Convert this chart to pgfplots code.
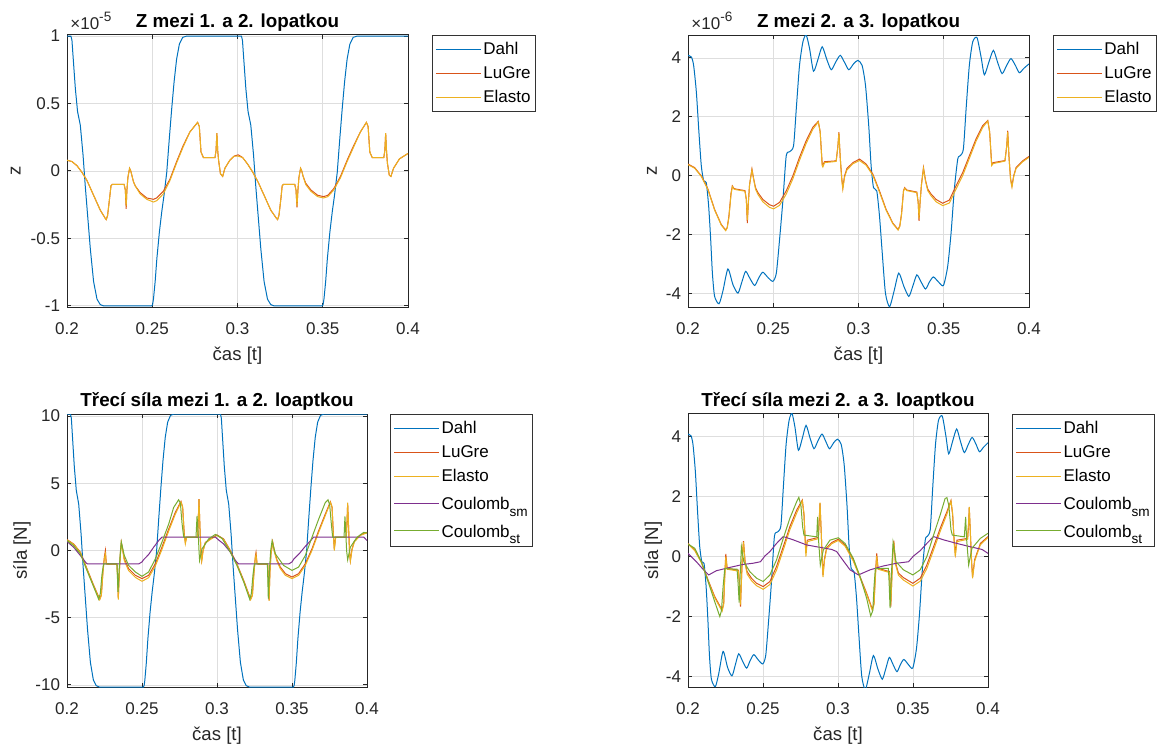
\documentclass[border=0pt]{standalone}
\usepackage{fontspec}
\setmainfont{Liberation Sans}
\usepackage{pgfplots}
\usepackage{pgfplotstable}
\pgfplotsset{compat=1.18}

\definecolor{cDahl}{RGB}{0,114,189}
\definecolor{cLuGre}{RGB}{217,83,25}
\definecolor{cElasto}{RGB}{237,177,32}
\definecolor{cSm}{RGB}{126,47,142}
\definecolor{cSt}{RGB}{119,172,48}
\definecolor{axgray}{RGB}{38,38,38}

\newcommand{\tickfont}{\fontsize{8.5}{10}\selectfont}
\newcommand{\labfont}{\fontsize{9.3}{11}\selectfont}
\newcommand{\sub}[1]{\rule{0pt}{7.8pt}\raisebox{-3.3pt}[0pt][4.3pt]{\fontsize{6.8}{8}\selectfont #1}}

% ---------- Z between blades 1 and 2 (x 1e-5) ----------
\pgfplotstableread[row sep=\\]{
t y\\
0.2000 1.00\\ 0.2023 1.00\\ 0.2029 0.97\\ 0.2035 0.86\\ 0.2049 0.61\\ 0.2062 0.44\\
0.2078 0.34\\ 0.2094 0.12\\ 0.2107 -0.11\\ 0.2121 -0.33\\ 0.2137 -0.58\\ 0.2156 -0.82\\
0.2176 -0.95\\ 0.2195 -0.99\\ 0.2215 -1.00\\ 0.2497 -1.00\\ 0.2502 -0.99\\ 0.2507 -0.95\\
0.2517 -0.82\\ 0.2527 -0.65\\ 0.2542 -0.45\\ 0.2556 -0.30\\ 0.2569 -0.18\\ 0.2585 -0.01\\
0.2600 0.24\\ 0.2614 0.46\\ 0.2628 0.66\\ 0.2643 0.83\\ 0.2659 0.94\\ 0.2678 0.99\\
0.2702 1.00\\ 0.3023 1.00\\ 0.3029 0.97\\ 0.3035 0.86\\ 0.3049 0.61\\ 0.3062 0.44\\
0.3078 0.34\\ 0.3094 0.12\\ 0.3107 -0.11\\ 0.3121 -0.33\\ 0.3137 -0.58\\ 0.3156 -0.82\\
0.3176 -0.95\\ 0.3195 -0.99\\ 0.3215 -1.00\\ 0.3497 -1.00\\ 0.3502 -0.99\\ 0.3507 -0.95\\
0.3517 -0.82\\ 0.3527 -0.65\\ 0.3542 -0.45\\ 0.3556 -0.30\\ 0.3569 -0.18\\ 0.3585 -0.01\\
0.3600 0.24\\ 0.3614 0.46\\ 0.3628 0.66\\ 0.3643 0.83\\ 0.3659 0.94\\ 0.3678 0.99\\
0.3702 1.00\\ 0.4000 1.00\\
}\tlDahl

\pgfplotstableread[row sep=\\]{
t y\\
0.2000 0.08\\ 0.2029 0.07\\ 0.2058 0.04\\ 0.2088 -0.01\\ 0.2117 -0.07\\ 0.2156 -0.18\\
0.2195 -0.29\\ 0.2224 -0.35\\ 0.2230 -0.36\\ 0.2238 -0.33\\ 0.2250 -0.20\\ 0.2258 -0.11\\
0.2265 -0.10\\ 0.2335 -0.10\\ 0.2342 -0.14\\ 0.2347 -0.28\\ 0.2351 -0.15\\ 0.2357 -0.05\\
0.2367 0.02\\ 0.2374 0.00\\ 0.2380 -0.03\\ 0.2390 -0.08\\ 0.2400 -0.11\\ 0.2429 -0.16\\
0.2468 -0.20\\ 0.2507 -0.21\\ 0.2526 -0.20\\ 0.2565 -0.15\\ 0.2604 -0.06\\ 0.2643 0.07\\
0.2682 0.19\\ 0.2721 0.29\\ 0.2766 0.36\\ 0.2776 0.33\\ 0.2786 0.14\\ 0.2800 0.10\\
0.2868 0.10\\ 0.2874 0.15\\ 0.2879 0.28\\ 0.2884 0.15\\ 0.2889 0.08\\ 0.2900 -0.02\\
0.2913 -0.04\\ 0.2926 0.02\\ 0.2955 0.08\\ 0.2980 0.11\\ 0.3004 0.12\\ 0.3030 0.10\\
0.3060 0.05\\ 0.3090 -0.01\\ 0.3120 -0.08\\ 0.3156 -0.18\\ 0.3195 -0.29\\ 0.3228 -0.35\\
0.3235 -0.36\\ 0.3243 -0.33\\ 0.3255 -0.20\\ 0.3262 -0.11\\ 0.3269 -0.10\\ 0.3336 -0.10\\
0.3343 -0.14\\ 0.3349 -0.27\\ 0.3354 -0.15\\ 0.3360 -0.05\\ 0.3370 0.02\\ 0.3377 0.00\\
0.3385 -0.04\\ 0.3400 -0.09\\ 0.3430 -0.14\\ 0.3470 -0.18\\ 0.3505 -0.19\\ 0.3530 -0.18\\
0.3565 -0.13\\ 0.3604 -0.04\\ 0.3643 0.08\\ 0.3682 0.19\\ 0.3721 0.29\\ 0.3756 0.36\\
0.3766 0.33\\ 0.3776 0.14\\ 0.3790 0.10\\ 0.3858 0.10\\ 0.3864 0.15\\ 0.3869 0.28\\
0.3874 0.15\\ 0.3879 0.06\\ 0.3890 -0.03\\ 0.3900 -0.04\\ 0.3915 0.02\\ 0.3950 0.09\\
0.4000 0.13\\
}\tlLuGre

\pgfplotstableread[row sep=\\]{
t y\\
0.2000 0.08\\ 0.2029 0.07\\ 0.2058 0.04\\ 0.2088 -0.01\\ 0.2117 -0.07\\ 0.2156 -0.18\\
0.2195 -0.29\\ 0.2224 -0.35\\ 0.2230 -0.36\\ 0.2238 -0.33\\ 0.2250 -0.20\\ 0.2258 -0.11\\
0.2265 -0.10\\ 0.2335 -0.10\\ 0.2342 -0.14\\ 0.2347 -0.26\\ 0.2351 -0.15\\ 0.2357 -0.05\\
0.2367 0.02\\ 0.2374 0.00\\ 0.2380 -0.03\\ 0.2390 -0.08\\ 0.2400 -0.11\\ 0.2429 -0.17\\
0.2468 -0.21\\ 0.2507 -0.23\\ 0.2526 -0.22\\ 0.2565 -0.17\\ 0.2604 -0.07\\ 0.2643 0.06\\
0.2682 0.18\\ 0.2721 0.29\\ 0.2766 0.36\\ 0.2776 0.33\\ 0.2786 0.14\\ 0.2800 0.10\\
0.2868 0.10\\ 0.2874 0.15\\ 0.2879 0.28\\ 0.2884 0.15\\ 0.2889 0.08\\ 0.2900 -0.02\\
0.2913 -0.04\\ 0.2926 0.02\\ 0.2955 0.08\\ 0.2980 0.11\\ 0.3004 0.11\\ 0.3030 0.10\\
0.3060 0.05\\ 0.3090 -0.01\\ 0.3120 -0.08\\ 0.3156 -0.18\\ 0.3195 -0.29\\ 0.3228 -0.35\\
0.3235 -0.36\\ 0.3243 -0.33\\ 0.3255 -0.20\\ 0.3262 -0.11\\ 0.3269 -0.10\\ 0.3336 -0.10\\
0.3343 -0.14\\ 0.3349 -0.26\\ 0.3354 -0.15\\ 0.3360 -0.05\\ 0.3370 0.02\\ 0.3377 0.00\\
0.3385 -0.04\\ 0.3400 -0.10\\ 0.3430 -0.15\\ 0.3470 -0.19\\ 0.3505 -0.20\\ 0.3530 -0.19\\
0.3565 -0.14\\ 0.3604 -0.05\\ 0.3643 0.07\\ 0.3682 0.18\\ 0.3721 0.29\\ 0.3756 0.36\\
0.3766 0.33\\ 0.3776 0.14\\ 0.3790 0.10\\ 0.3858 0.10\\ 0.3864 0.15\\ 0.3869 0.28\\
0.3874 0.15\\ 0.3879 0.06\\ 0.3890 -0.03\\ 0.3900 -0.04\\ 0.3915 0.02\\ 0.3950 0.09\\
0.4000 0.13\\
}\tlElasto

% ---------- Z between blades 2 and 3 (x 1e-6); Dahl force 2-3 has the same values ----------
\pgfplotstableread[row sep=\\]{
t y\\
0.2000 4.09\\ 0.2020 4.03\\ 0.2033 3.75\\ 0.2049 2.84\\ 0.2064 1.48\\ 0.2078 0.34\\
0.2092 -0.17\\ 0.2107 -0.23\\ 0.2121 -1.02\\ 0.2133 -2.16\\ 0.2143 -3.30\\ 0.2156 -4.09\\
0.2182 -4.34\\ 0.2205 -3.90\\ 0.2234 -3.16\\ 0.2264 -3.70\\ 0.2293 -3.98\\ 0.2316 -3.60\\
0.2338 -3.24\\ 0.2365 -3.50\\ 0.2391 -3.72\\ 0.2416 -3.45\\ 0.2439 -3.27\\ 0.2469 -3.45\\
0.2498 -3.58\\ 0.2518 -3.30\\ 0.2537 -2.16\\ 0.2557 -0.80\\ 0.2576 0.68\\ 0.2596 0.82\\
0.2619 1.02\\ 0.2635 2.27\\ 0.2654 3.75\\ 0.2674 4.55\\ 0.2693 4.78\\ 0.2713 4.32\\
0.2736 3.55\\ 0.2762 3.95\\ 0.2787 4.38\\ 0.2814 3.95\\ 0.2840 3.60\\ 0.2865 3.85\\
0.2893 4.09\\ 0.2918 3.85\\ 0.2943 3.60\\ 0.2971 3.80\\ 0.2996 3.92\\ 0.3021 3.75\\
0.3041 3.07\\ 0.3060 1.70\\ 0.3074 0.34\\ 0.3088 -0.40\\ 0.3107 -0.51\\ 0.3123 -1.36\\
0.3139 -2.60\\ 0.3158 -3.98\\ 0.3182 -4.44\\ 0.3209 -3.90\\ 0.3236 -3.30\\ 0.3266 -3.75\\
0.3295 -4.09\\ 0.3318 -3.75\\ 0.3342 -3.36\\ 0.3367 -3.60\\ 0.3393 -3.84\\ 0.3416 -3.60\\
0.3439 -3.43\\ 0.3469 -3.60\\ 0.3498 -3.72\\ 0.3523 -3.07\\ 0.3543 -1.93\\ 0.3562 -0.45\\
0.3582 0.57\\ 0.3596 0.68\\ 0.3615 0.91\\ 0.3631 2.27\\ 0.3650 3.75\\ 0.3670 4.55\\
0.3695 4.69\\ 0.3719 4.03\\ 0.3738 3.43\\ 0.3764 3.85\\ 0.3791 4.26\\ 0.3816 3.85\\
0.3842 3.47\\ 0.3869 3.75\\ 0.3894 3.98\\ 0.3920 3.75\\ 0.3943 3.50\\ 0.3970 3.65\\
0.4000 3.80\\
}\trDahl

\pgfplotstableread[row sep=\\]{
t y\\
0.2000 0.40\\ 0.2039 0.28\\ 0.2078 0.00\\ 0.2117 -0.45\\ 0.2156 -1.14\\ 0.2195 -1.65\\
0.2221 -1.84\\ 0.2230 -1.75\\ 0.2240 -1.36\\ 0.2252 -0.60\\ 0.2260 -0.34\\ 0.2270 -0.43\\
0.2283 -0.45\\ 0.2334 -0.50\\ 0.2342 -0.80\\ 0.2348 -1.60\\ 0.2354 -0.90\\ 0.2361 -0.30\\
0.2375 0.23\\ 0.2385 -0.10\\ 0.2396 -0.40\\ 0.2410 -0.57\\ 0.2439 -0.80\\ 0.2478 -0.98\\
0.2502 -1.03\\ 0.2537 -0.90\\ 0.2576 -0.51\\ 0.2615 0.00\\ 0.2654 0.63\\ 0.2693 1.19\\
0.2732 1.65\\ 0.2764 1.85\\ 0.2775 1.50\\ 0.2787 0.40\\ 0.2791 0.38\\ 0.2801 0.48\\
0.2869 0.51\\ 0.2879 1.00\\ 0.2885 1.48\\ 0.2893 0.60\\ 0.2902 -0.10\\ 0.2908 -0.40\\
0.2918 0.00\\ 0.2932 0.25\\ 0.2967 0.45\\ 0.3006 0.57\\ 0.3045 0.40\\ 0.3084 0.06\\
0.3123 -0.51\\ 0.3162 -1.14\\ 0.3201 -1.60\\ 0.3232 -1.82\\ 0.3242 -1.70\\ 0.3252 -1.30\\
0.3264 -0.50\\ 0.3271 -0.40\\ 0.3283 -0.48\\ 0.3342 -0.55\\ 0.3350 -0.90\\ 0.3355 -1.53\\
0.3361 -0.90\\ 0.3369 -0.30\\ 0.3381 0.28\\ 0.3393 -0.15\\ 0.3406 -0.45\\ 0.3426 -0.62\\
0.3455 -0.80\\ 0.3494 -0.93\\ 0.3533 -0.82\\ 0.3572 -0.34\\ 0.3611 0.11\\ 0.3650 0.68\\
0.3689 1.25\\ 0.3728 1.70\\ 0.3758 1.88\\ 0.3769 1.50\\ 0.3781 0.40\\ 0.3791 0.45\\
0.3859 0.52\\ 0.3869 1.00\\ 0.3875 1.53\\ 0.3883 0.60\\ 0.3892 -0.10\\ 0.3900 -0.34\\
0.3910 0.00\\ 0.3924 0.28\\ 0.3963 0.51\\ 0.4000 0.66\\
}\trLuGre

\pgfplotstableread[row sep=\\]{
t y\\
0.2000 0.38\\ 0.2039 0.26\\ 0.2078 -0.02\\ 0.2117 -0.47\\ 0.2156 -1.16\\ 0.2195 -1.67\\
0.2221 -1.86\\ 0.2230 -1.77\\ 0.2240 -1.40\\ 0.2252 -0.65\\ 0.2260 -0.36\\ 0.2270 -0.45\\
0.2283 -0.47\\ 0.2334 -0.52\\ 0.2342 -0.80\\ 0.2348 -1.50\\ 0.2354 -0.90\\ 0.2361 -0.30\\
0.2375 0.20\\ 0.2385 -0.12\\ 0.2396 -0.45\\ 0.2410 -0.63\\ 0.2439 -0.88\\ 0.2478 -1.07\\
0.2502 -1.12\\ 0.2537 -1.00\\ 0.2576 -0.62\\ 0.2615 -0.10\\ 0.2654 0.53\\ 0.2693 1.10\\
0.2732 1.58\\ 0.2764 1.83\\ 0.2775 1.50\\ 0.2787 0.35\\ 0.2791 0.30\\ 0.2801 0.45\\
0.2869 0.49\\ 0.2879 1.00\\ 0.2885 1.45\\ 0.2893 0.60\\ 0.2902 -0.15\\ 0.2908 -0.45\\
0.2918 -0.05\\ 0.2932 0.20\\ 0.2967 0.41\\ 0.3006 0.52\\ 0.3045 0.36\\ 0.3084 0.02\\
0.3123 -0.55\\ 0.3162 -1.17\\ 0.3201 -1.62\\ 0.3232 -1.84\\ 0.3242 -1.72\\ 0.3252 -1.33\\
0.3264 -0.52\\ 0.3271 -0.42\\ 0.3283 -0.50\\ 0.3342 -0.57\\ 0.3350 -0.90\\ 0.3355 -1.45\\
0.3361 -0.90\\ 0.3369 -0.32\\ 0.3381 0.25\\ 0.3393 -0.18\\ 0.3406 -0.50\\ 0.3426 -0.68\\
0.3455 -0.88\\ 0.3494 -1.01\\ 0.3533 -0.92\\ 0.3572 -0.45\\ 0.3611 0.01\\ 0.3650 0.59\\
0.3689 1.17\\ 0.3728 1.64\\ 0.3758 1.86\\ 0.3769 1.50\\ 0.3781 0.35\\ 0.3791 0.42\\
0.3859 0.50\\ 0.3869 1.00\\ 0.3875 1.48\\ 0.3883 0.60\\ 0.3892 -0.15\\ 0.3900 -0.38\\
0.3910 -0.03\\ 0.3924 0.25\\ 0.3963 0.48\\ 0.4000 0.63\\
}\trElasto

% ---------- friction force between blades 1 and 2 ----------
\pgfplotstableread[row sep=\\]{
t y\\
0.2000 10.15\\ 0.2023 10.15\\ 0.2029 9.85\\ 0.2035 8.73\\ 0.2049 6.19\\ 0.2062 4.47\\
0.2078 3.45\\ 0.2094 1.22\\ 0.2107 -1.12\\ 0.2121 -3.35\\ 0.2137 -5.89\\ 0.2156 -8.32\\
0.2176 -9.64\\ 0.2195 -10.05\\ 0.2215 -10.15\\ 0.2509 -10.15\\ 0.2514 -10.05\\ 0.2519 -9.64\\
0.2529 -8.32\\ 0.2539 -6.60\\ 0.2554 -4.57\\ 0.2568 -3.05\\ 0.2581 -1.83\\ 0.2597 -0.10\\
0.2612 2.44\\ 0.2626 4.67\\ 0.2640 6.70\\ 0.2655 8.42\\ 0.2671 9.54\\ 0.2690 10.05\\
0.2714 10.15\\ 0.3023 10.15\\ 0.3029 9.85\\ 0.3035 8.73\\ 0.3049 6.19\\ 0.3062 4.47\\
0.3078 3.45\\ 0.3094 1.22\\ 0.3107 -1.12\\ 0.3121 -3.35\\ 0.3137 -5.89\\ 0.3156 -8.32\\
0.3176 -9.64\\ 0.3195 -10.05\\ 0.3215 -10.15\\ 0.3509 -10.15\\ 0.3514 -10.05\\ 0.3519 -9.64\\
0.3529 -8.32\\ 0.3539 -6.60\\ 0.3554 -4.57\\ 0.3568 -3.05\\ 0.3581 -1.83\\ 0.3597 -0.10\\
0.3612 2.44\\ 0.3626 4.67\\ 0.3640 6.70\\ 0.3655 8.42\\ 0.3671 9.54\\ 0.3690 10.05\\
0.3714 10.15\\ 0.4000 10.15\\
}\blDahl

\pgfplotstableread[row sep=\\]{
t y\\
0.2000 0.81\\ 0.2044 0.49\\ 0.2089 -0.12\\ 0.2133 -1.35\\ 0.2178 -2.59\\ 0.2218 -3.62\\
0.2229 -3.30\\ 0.2240 -1.50\\ 0.2249 -0.50\\ 0.2256 0.00\\ 0.2262 -0.98\\ 0.2333 -1.00\\
0.2338 -2.00\\ 0.2342 -3.57\\ 0.2349 -1.50\\ 0.2356 -0.20\\ 0.2362 0.62\\ 0.2371 0.10\\
0.2382 -0.62\\ 0.2411 -1.35\\ 0.2456 -1.85\\ 0.2500 -2.09\\ 0.2544 -1.85\\ 0.2589 -0.98\\
0.2633 0.25\\ 0.2678 1.60\\ 0.2722 2.83\\ 0.2760 3.65\\ 0.2771 3.20\\ 0.2782 1.20\\
0.2789 0.62\\ 0.2798 1.00\\ 0.2871 1.00\\ 0.2876 2.50\\ 0.2880 3.82\\ 0.2887 1.50\\
0.2893 -0.20\\ 0.2898 -0.74\\ 0.2907 0.00\\ 0.2922 0.60\\ 0.2956 0.86\\ 0.3000 1.16\\
0.3044 0.86\\ 0.3089 0.00\\ 0.3133 -1.00\\ 0.3178 -2.22\\ 0.3224 -3.62\\ 0.3236 -3.30\\
0.3247 -1.50\\ 0.3256 -0.40\\ 0.3260 -0.15\\ 0.3267 -0.98\\ 0.3338 -1.00\\ 0.3342 -2.00\\
0.3347 -3.70\\ 0.3353 -1.50\\ 0.3360 -0.20\\ 0.3371 0.66\\ 0.3382 0.00\\ 0.3400 -0.70\\
0.3422 -1.23\\ 0.3456 -1.72\\ 0.3500 -1.97\\ 0.3544 -1.72\\ 0.3589 -0.98\\ 0.3633 0.12\\
0.3678 1.48\\ 0.3722 2.71\\ 0.3756 3.62\\ 0.3767 3.20\\ 0.3776 1.20\\ 0.3782 0.12\\
0.3791 1.00\\ 0.3862 1.00\\ 0.3867 2.20\\ 0.3871 3.50\\ 0.3878 1.50\\ 0.3884 -0.20\\
0.3889 -0.74\\ 0.3900 0.10\\ 0.3916 0.70\\ 0.3956 1.16\\ 0.4000 1.35\\
}\blLuGre

\pgfplotstableread[row sep=\\]{
t y\\
0.2000 0.78\\ 0.2044 0.46\\ 0.2089 -0.16\\ 0.2133 -1.40\\ 0.2178 -2.65\\ 0.2218 -3.66\\
0.2229 -3.35\\ 0.2240 -1.60\\ 0.2249 -0.60\\ 0.2256 -0.25\\ 0.2262 -1.02\\ 0.2333 -1.04\\
0.2338 -2.10\\ 0.2342 -3.65\\ 0.2349 -1.60\\ 0.2356 -0.30\\ 0.2362 0.55\\ 0.2371 0.00\\
0.2382 -0.75\\ 0.2411 -1.50\\ 0.2456 -2.00\\ 0.2500 -2.29\\ 0.2544 -2.02\\ 0.2589 -1.15\\
0.2633 0.08\\ 0.2678 1.45\\ 0.2722 2.70\\ 0.2760 3.60\\ 0.2771 3.25\\ 0.2782 1.10\\
0.2789 0.50\\ 0.2798 0.98\\ 0.2871 0.98\\ 0.2876 2.60\\ 0.2880 3.80\\ 0.2887 1.50\\
0.2893 -0.30\\ 0.2898 -0.80\\ 0.2907 -0.05\\ 0.2922 0.55\\ 0.2956 0.82\\ 0.3000 1.12\\
0.3044 0.82\\ 0.3089 -0.05\\ 0.3133 -1.05\\ 0.3178 -2.28\\ 0.3224 -3.66\\ 0.3236 -3.35\\
0.3247 -1.60\\ 0.3256 -0.50\\ 0.3260 -0.30\\ 0.3267 -1.02\\ 0.3338 -1.04\\ 0.3342 -2.10\\
0.3347 -3.75\\ 0.3353 -1.60\\ 0.3360 -0.30\\ 0.3371 0.60\\ 0.3382 -0.10\\ 0.3400 -0.80\\
0.3422 -1.35\\ 0.3456 -1.85\\ 0.3500 -2.09\\ 0.3544 -1.85\\ 0.3589 -1.10\\ 0.3633 0.00\\
0.3678 1.36\\ 0.3722 2.60\\ 0.3756 3.58\\ 0.3767 3.25\\ 0.3776 1.10\\ 0.3782 0.00\\
0.3791 0.98\\ 0.3862 0.98\\ 0.3867 2.30\\ 0.3871 3.55\\ 0.3878 1.50\\ 0.3884 -0.30\\
0.3889 -0.80\\ 0.3900 0.05\\ 0.3916 0.65\\ 0.3956 1.12\\ 0.4000 1.32\\
}\blElasto

\pgfplotstableread[row sep=\\]{
t y\\
0.2000 0.67\\ 0.2044 0.25\\ 0.2089 -0.37\\ 0.2129 -0.94\\ 0.2138 -1.00\\ 0.2478 -1.00\\
0.2500 -0.85\\ 0.2511 -0.68\\ 0.2544 -0.30\\ 0.2578 0.25\\ 0.2611 0.74\\ 0.2633 1.00\\
0.2989 1.00\\ 0.3011 0.78\\ 0.3044 0.49\\ 0.3089 -0.12\\ 0.3122 -0.74\\ 0.3144 -1.00\\
0.3478 -1.00\\ 0.3500 -0.85\\ 0.3511 -0.65\\ 0.3551 -0.20\\ 0.3584 0.25\\ 0.3629 0.80\\
0.3644 1.00\\ 0.3978 1.00\\ 0.4000 0.74\\
}\blSm

\pgfplotstableread[row sep=\\]{
t y\\
0.2000 0.74\\ 0.2044 0.37\\ 0.2089 -0.25\\ 0.2133 -1.48\\ 0.2178 -2.71\\ 0.2211 -3.62\\
0.2222 -3.20\\ 0.2233 -1.80\\ 0.2244 -1.00\\ 0.2333 -1.00\\ 0.2340 -3.08\\ 0.2349 -1.20\\
0.2356 -0.10\\ 0.2362 0.62\\ 0.2382 -0.37\\ 0.2411 -1.11\\ 0.2456 -1.60\\ 0.2500 -1.92\\
0.2544 -1.60\\ 0.2589 -0.62\\ 0.2633 0.62\\ 0.2678 1.97\\ 0.2711 3.20\\ 0.2744 3.77\\
0.2756 3.50\\ 0.2767 2.00\\ 0.2778 1.00\\ 0.2860 1.00\\ 0.2867 2.58\\ 0.2876 1.00\\
0.2880 0.00\\ 0.2884 -0.74\\ 0.2900 0.12\\ 0.2944 0.86\\ 0.2989 1.20\\ 0.3033 0.91\\
0.3089 -0.12\\ 0.3133 -1.11\\ 0.3178 -2.34\\ 0.3218 -3.62\\ 0.3229 -3.20\\ 0.3240 -1.80\\
0.3249 -1.00\\ 0.3336 -1.00\\ 0.3342 -3.57\\ 0.3351 -1.20\\ 0.3358 0.00\\ 0.3367 0.71\\
0.3389 -0.25\\ 0.3444 -1.11\\ 0.3500 -1.48\\ 0.3544 -1.23\\ 0.3589 -0.37\\ 0.3633 0.98\\
0.3678 2.34\\ 0.3722 3.57\\ 0.3740 3.77\\ 0.3751 3.40\\ 0.3762 2.00\\ 0.3771 1.00\\
0.3847 1.00\\ 0.3853 2.53\\ 0.3860 1.00\\ 0.3864 0.00\\ 0.3871 -0.69\\ 0.3889 0.25\\
0.3933 0.98\\ 0.3978 1.35\\ 0.4000 1.30\\
}\blSt

% ---------- friction force between blades 2 and 3 ----------
\pgfplotstableread[row sep=\\]{
t y\\
0.2000 0.44\\ 0.2045 0.22\\ 0.2089 -0.17\\ 0.2134 -0.78\\ 0.2178 -1.33\\ 0.2227 -1.78\\
0.2238 -1.55\\ 0.2245 -0.60\\ 0.2252 0.09\\ 0.2261 -0.39\\ 0.2336 -0.45\\ 0.2343 -0.90\\
0.2350 -1.67\\ 0.2356 -0.80\\ 0.2363 0.10\\ 0.2370 0.52\\ 0.2381 -0.20\\ 0.2394 -0.50\\
0.2423 -0.72\\ 0.2457 -0.89\\ 0.2501 -1.00\\ 0.2546 -0.83\\ 0.2590 -0.33\\ 0.2635 0.33\\
0.2679 1.00\\ 0.2724 1.55\\ 0.2762 1.89\\ 0.2773 1.40\\ 0.2782 0.50\\ 0.2786 0.15\\
0.2795 0.55\\ 0.2869 0.64\\ 0.2875 1.20\\ 0.2880 1.78\\ 0.2889 0.70\\ 0.2895 -0.10\\
0.2900 -0.61\\ 0.2909 -0.10\\ 0.2924 0.30\\ 0.2958 0.47\\ 0.3002 0.58\\ 0.3047 0.39\\
0.3102 -0.11\\ 0.3147 -0.67\\ 0.3191 -1.22\\ 0.3229 -1.76\\ 0.3240 -1.55\\ 0.3249 -0.60\\
0.3258 0.11\\ 0.3267 -0.39\\ 0.3343 -0.50\\ 0.3347 -0.90\\ 0.3352 -1.67\\ 0.3358 -0.80\\
0.3365 0.10\\ 0.3372 0.53\\ 0.3383 -0.20\\ 0.3403 -0.55\\ 0.3436 -0.70\\ 0.3499 -0.89\\
0.3548 -0.72\\ 0.3592 -0.28\\ 0.3637 0.33\\ 0.3681 0.94\\ 0.3726 1.50\\ 0.3753 1.87\\
0.3764 1.40\\ 0.3775 0.50\\ 0.3782 0.11\\ 0.3793 0.55\\ 0.3864 0.61\\ 0.3871 1.10\\
0.3875 1.64\\ 0.3884 0.60\\ 0.3891 -0.20\\ 0.3897 -0.67\\ 0.3911 -0.10\\ 0.3949 0.44\\
0.4000 0.67\\
}\brLuGre

\pgfplotstableread[row sep=\\]{
t y\\
0.2000 0.42\\ 0.2045 0.20\\ 0.2089 -0.20\\ 0.2134 -0.82\\ 0.2178 -1.37\\ 0.2227 -1.82\\
0.2238 -1.60\\ 0.2245 -0.70\\ 0.2252 0.00\\ 0.2261 -0.42\\ 0.2336 -0.48\\ 0.2343 -0.95\\
0.2350 -1.60\\ 0.2356 -0.85\\ 0.2363 0.05\\ 0.2370 0.48\\ 0.2381 -0.25\\ 0.2394 -0.58\\
0.2423 -0.80\\ 0.2457 -0.97\\ 0.2501 -1.09\\ 0.2546 -0.93\\ 0.2590 -0.45\\ 0.2635 0.22\\
0.2679 0.90\\ 0.2724 1.45\\ 0.2762 1.86\\ 0.2773 1.45\\ 0.2782 0.40\\ 0.2786 0.00\\
0.2795 0.50\\ 0.2869 0.60\\ 0.2875 1.30\\ 0.2880 1.80\\ 0.2889 0.70\\ 0.2895 -0.15\\
0.2900 -0.68\\ 0.2909 -0.15\\ 0.2924 0.25\\ 0.2958 0.43\\ 0.3002 0.54\\ 0.3047 0.35\\
0.3102 -0.15\\ 0.3147 -0.71\\ 0.3191 -1.26\\ 0.3229 -1.80\\ 0.3240 -1.60\\ 0.3249 -0.70\\
0.3258 0.02\\ 0.3267 -0.42\\ 0.3343 -0.53\\ 0.3347 -0.95\\ 0.3352 -1.60\\ 0.3358 -0.85\\
0.3365 0.05\\ 0.3372 0.48\\ 0.3383 -0.25\\ 0.3403 -0.62\\ 0.3436 -0.78\\ 0.3499 -0.98\\
0.3548 -0.82\\ 0.3592 -0.40\\ 0.3637 0.22\\ 0.3681 0.84\\ 0.3726 1.42\\ 0.3753 1.85\\
0.3764 1.45\\ 0.3775 0.40\\ 0.3782 0.00\\ 0.3793 0.50\\ 0.3864 0.58\\ 0.3871 1.20\\
0.3875 1.66\\ 0.3884 0.60\\ 0.3891 -0.25\\ 0.3897 -0.72\\ 0.3911 -0.15\\ 0.3949 0.40\\
0.4000 0.64\\
}\brElasto

\pgfplotstableread[row sep=\\]{
t y\\
0.2000 0.11\\ 0.2056 -0.17\\ 0.2100 -0.42\\ 0.2138 -0.61\\ 0.2189 -0.47\\ 0.2278 -0.36\\
0.2367 -0.26\\ 0.2434 -0.22\\ 0.2483 -0.17\\ 0.2512 0.02\\ 0.2546 0.17\\ 0.2590 0.44\\
0.2635 0.67\\ 0.2702 0.56\\ 0.2791 0.39\\ 0.2880 0.31\\ 0.2958 0.24\\ 0.2991 0.17\\
0.3024 -0.06\\ 0.3080 -0.44\\ 0.3136 -0.61\\ 0.3214 -0.44\\ 0.3303 -0.31\\ 0.3392 -0.22\\
0.3470 -0.17\\ 0.3503 0.02\\ 0.3548 0.20\\ 0.3592 0.44\\ 0.3637 0.67\\ 0.3704 0.56\\
0.3793 0.44\\ 0.3882 0.33\\ 0.3960 0.24\\ 0.4000 0.11\\
}\brSm

\pgfplotstableread[row sep=\\]{
t y\\
0.2000 0.42\\ 0.2045 0.28\\ 0.2089 -0.17\\ 0.2134 -0.83\\ 0.2178 -1.50\\ 0.2212 -2.00\\
0.2223 -1.80\\ 0.2234 -1.00\\ 0.2245 -0.40\\ 0.2327 -0.42\\ 0.2334 -0.90\\ 0.2341 -1.53\\
0.2347 -0.70\\ 0.2356 0.33\\ 0.2372 -0.17\\ 0.2412 -0.50\\ 0.2457 -0.72\\ 0.2501 -0.83\\
0.2546 -0.61\\ 0.2590 -0.11\\ 0.2635 0.61\\ 0.2679 1.28\\ 0.2724 1.83\\ 0.2739 1.98\\
0.2753 1.70\\ 0.2764 1.00\\ 0.2773 0.72\\ 0.2858 0.66\\ 0.2864 1.33\\ 0.2871 0.50\\
0.2882 -0.28\\ 0.2902 0.22\\ 0.2946 0.55\\ 0.3002 0.63\\ 0.3047 0.44\\ 0.3102 -0.06\\
0.3147 -0.67\\ 0.3191 -1.39\\ 0.3218 -1.98\\ 0.3232 -1.80\\ 0.3240 -1.00\\ 0.3249 -0.40\\
0.3336 -0.39\\ 0.3341 -0.90\\ 0.3347 -1.72\\ 0.3354 -0.80\\ 0.3367 0.47\\ 0.3387 -0.17\\
0.3436 -0.44\\ 0.3499 -0.61\\ 0.3548 -0.44\\ 0.3592 0.00\\ 0.3637 0.72\\ 0.3681 1.39\\
0.3714 1.94\\ 0.3726 1.97\\ 0.3739 1.70\\ 0.3753 0.90\\ 0.3762 0.72\\ 0.3842 0.66\\
0.3851 1.33\\ 0.3857 0.60\\ 0.3871 -0.28\\ 0.3893 0.28\\ 0.3949 0.61\\ 0.4000 0.78\\
}\brSt

\pgfplotsset{
  subplot/.style={
    scale only axis,
    xmin=0.2, xmax=0.4,
    xtick={0.2,0.25,0.3,0.35,0.4},
    grid=major,
    major grid style={draw=black!13, line width=0.45pt},
    axis line style={draw=axgray, line width=0.5pt},
    tick align=inside,
    major tick length=1.8pt,
    every tick/.style={draw=axgray, line width=0.5pt},
    tick label style={font=\tickfont, text=axgray},
    /pgf/number format/assume math mode=true,
    /pgf/number format/fixed,
    scaled ticks=false,
    xticklabel style={anchor=base, yshift=-13.5pt},
    yticklabel style={anchor=east, inner sep=0pt, xshift=-3.3pt},
    every axis x label/.style={at={(axis description cs:0.5,0)}, anchor=base, yshift=-26.5pt, font=\labfont, text=axgray},
    xlabel={čas [t]},
    every axis title/.style={at={(axis description cs:0.5,1)}, anchor=base, yshift=3.8pt, font=\bfseries\fontsize{9.4}{11}\selectfont},
    legend cell align=left,
    legend image code/.code={\draw[##1, line width=0.5pt] (0pt,0pt) -- (22.5pt,0pt);},
    legend style={anchor=north west, draw=black!80, line width=0.5pt, font=\tickfont,
      inner xsep=1.5pt, inner ysep=0.8pt, nodes={inner xsep=1pt, inner ysep=2.3pt}, row sep=0pt},
    every axis plot/.append style={line width=0.5pt},
  },
  ylab/.style={every axis y label/.style={at={(axis description cs:#1,0.5)}, rotate=90, anchor=base, font=\labfont, text=axgray}},
}

\begin{document}
\begin{tikzpicture}
\path[use as bounding box] (0pt,0pt) rectangle (582.5pt,372.5pt);

% top left
\begin{axis}[subplot, name=tl, at={(33.5pt,219pt)}, anchor=south west,
  width=170.5pt, height=136pt,
  ymin=-1.008, ymax=1.008, ytick={-1,-0.5,0,0.5,1},
  ylab=-0.136, ylabel={z},
  title={Z mezi 1. a 2. lopatkou},
  legend style={at={(1.07,1)}}]
\addplot[cDahl] table {\tlDahl};
\addplot[cLuGre] table {\tlLuGre};
\addplot[cElasto] table {\tlElasto};
\legend{Dahl,LuGre,Elasto}
\end{axis}
\node[anchor=base west, font=\tickfont, text=axgray, inner sep=0pt] at ([xshift=1.5pt,yshift=2.8pt]tl.north west) {×10\raisebox{4pt}{\fontsize{6.8}{8}\selectfont -5}};

% top right
\begin{axis}[subplot, name=tr, at={(344pt,219pt)}, anchor=south west,
  width=170.5pt, height=136pt,
  ymin=-4.45, ymax=4.78, ytick={-4,-2,0,2,4},
  ylab=-0.091, ylabel={z},
  title={Z mezi 2. a 3. lopatkou},
  legend style={at={(1.07,1)}}]
\addplot[cDahl, smooth, tension=0.4] table {\trDahl};
\addplot[cLuGre] table {\trLuGre};
\addplot[cElasto] table {\trElasto};
\legend{Dahl,LuGre,Elasto}
\end{axis}
\node[anchor=base west, font=\tickfont, text=axgray, inner sep=0pt] at ([xshift=1.5pt,yshift=2.8pt]tr.north west) {×10\raisebox{4pt}{\fontsize{6.8}{8}\selectfont -6}};

% bottom left
\begin{axis}[subplot, name=bl, at={(33.5pt,29pt)}, anchor=south west,
  width=150pt, height=136.5pt,
  ymin=-10.15, ymax=10.15, ytick={-10,-5,0,5,10},
  ylab=-0.134, ylabel={síla [N]},
  title={Třecí síla mezi 1. a 2. loaptkou},
  legend style={at={(1.077,1)}}]
\addplot[cDahl] table {\blDahl};
\addplot[cLuGre] table {\blLuGre};
\addplot[cElasto] table {\blElasto};
\addplot[cSm] table {\blSm};
\addplot[cSt] table {\blSt};
\legend{Dahl,LuGre,Elasto,Coulomb\sub{sm},Coulomb\sub{st}}
\end{axis}

% bottom right
\begin{axis}[subplot, name=br, at={(344pt,29pt)}, anchor=south west,
  width=150pt, height=136.5pt,
  ymin=-4.35, ymax=4.76, ytick={-4,-2,0,2,4},
  ylab=-0.10, ylabel={síla [N]},
  title={Třecí síla mezi 2. a 3. loaptkou},
  legend style={at={(1.08,1)}}]
\addplot[cDahl, smooth, tension=0.4] table {\trDahl};
\addplot[cLuGre] table {\brLuGre};
\addplot[cElasto] table {\brElasto};
\addplot[cSm] table {\brSm};
\addplot[cSt] table {\brSt};
\legend{Dahl,LuGre,Elasto,Coulomb\sub{sm},Coulomb\sub{st}}
\end{axis}
\end{tikzpicture}
\end{document}
